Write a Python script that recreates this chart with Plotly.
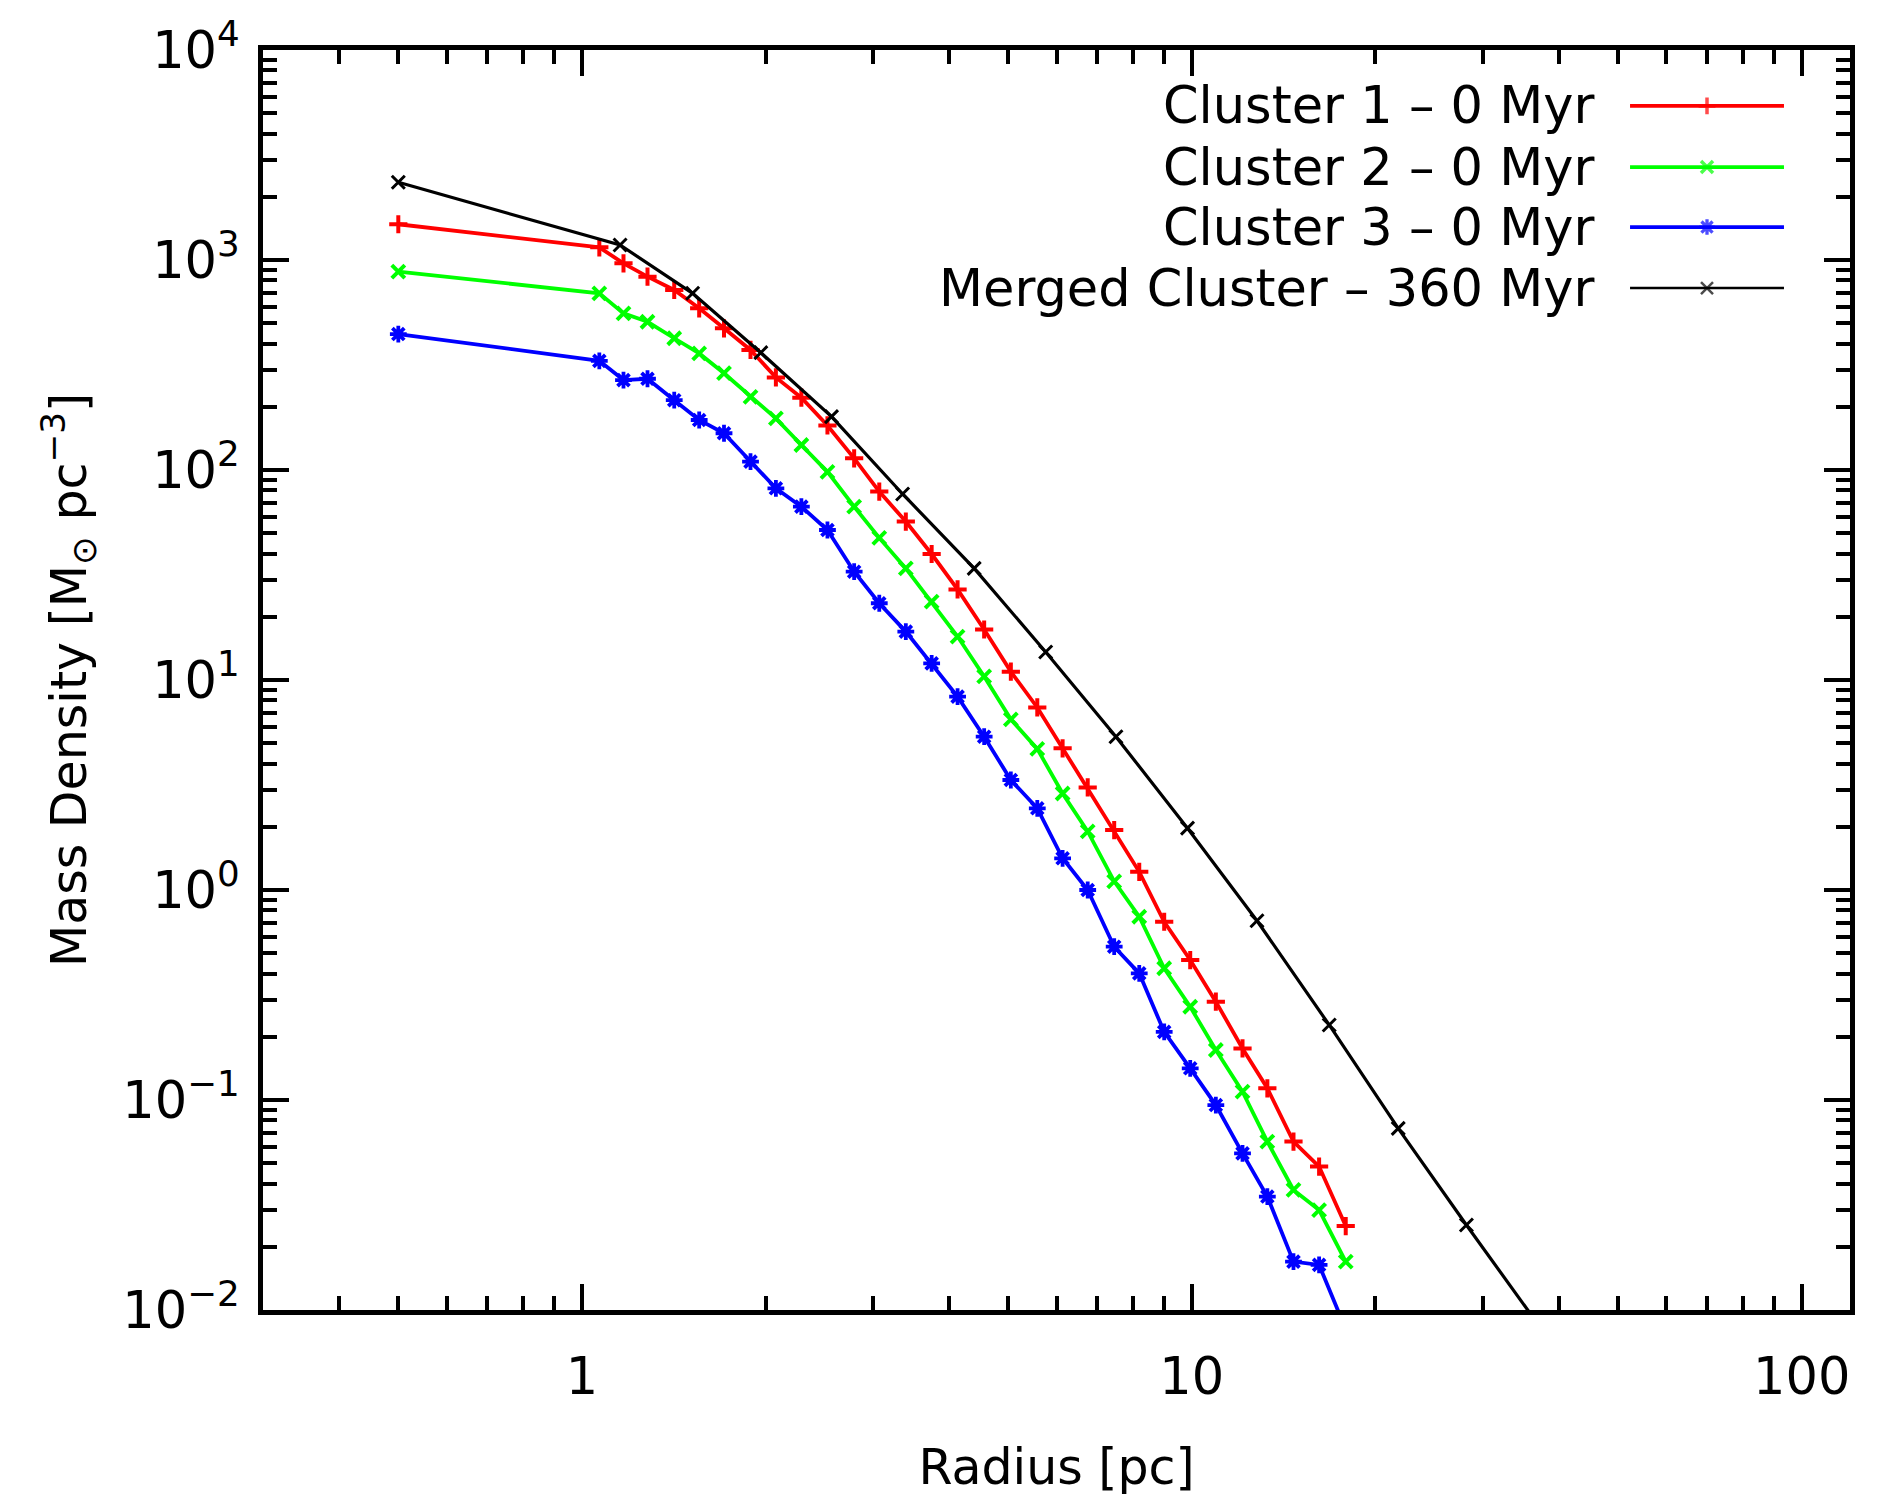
import math
import plotly.graph_objects as go

# ---------------- data ----------------
radius_clusters = [0.5, 1.068, 1.17, 1.281, 1.417, 1.557, 1.71, 1.89, 2.08, 2.29, 2.527,
                   2.795, 3.073, 3.397, 3.745, 4.13, 4.566, 5.05, 5.58, 6.14, 6.75, 7.46,
                   8.2, 9.01, 9.94, 10.95, 12.11, 13.3, 14.68, 16.17, 17.88]
density_c1 = [1480, 1149, 964, 833, 720, 589, 473, 373, 276, 221, 163, 113.6, 78.9, 56.8,
              39.8, 27.0, 17.4, 10.96, 7.4, 4.73, 3.08, 1.93, 1.22, 0.706, 0.464, 0.294,
              0.176, 0.1137, 0.0634, 0.0482, 0.0251]
density_c2 = [880, 694, 557, 508, 424, 359, 289, 223, 176, 131.5, 98, 66.9, 47.5, 34.0,
              23.6, 16.1, 10.4, 6.5, 4.7, 2.88, 1.90, 1.10, 0.746, 0.424, 0.278, 0.173,
              0.1096, 0.0634, 0.0373, 0.0299, 0.0170]
density_c3 = [444, 331, 268, 272, 215, 173, 149.6, 109.6, 81.8, 66.9, 51.8, 32.8, 23.2,
              17.0, 12.0, 8.33, 5.37, 3.34, 2.45, 1.416, 1.0, 0.537, 0.401, 0.211, 0.1416,
              0.0946, 0.0557, 0.0347, 0.0170, 0.0164, 0.0081]
radius_merged = [0.5, 1.155, 1.519, 1.965, 2.566, 3.356, 4.397, 5.76, 7.51, 9.84, 12.79,
                 16.8, 21.8, 28.2, 36.9]
density_merged = [2344, 1179, 694, 362, 179.6, 76.9, 34.0, 13.6, 5.37, 1.97, 0.714,
                  0.2277, 0.0733, 0.0254, 0.0086]

series_names = ["Cluster 1 \u2013 0 Myr", "Cluster 2 \u2013 0 Myr",
                "Cluster 3 \u2013 0 Myr", "Merged Cluster \u2013 360 Myr"]

x_major_ticks = [1, 10, 100]
x_major_text = ["1", "10", "100"]
y_major_ticks = [0.01, 0.1, 1, 10, 100, 1000, 10000]
y_major_text = ["10<sup>\u22122</sup>", "10<sup>\u22121</sup>", "10<sup>0</sup>",
                "10<sup>1</sup>", "10<sup>2</sup>", "10<sup>3</sup>", "10<sup>4</sup>"]

# ---------------- styles ----------------
FONT = "DejaVu Sans"
styles = [
    dict(color="#ff0000", symbol="cross-thin", size=13, lw=3.8, mlw=4),
    dict(color="#00ff00", symbol="x-thin", size=13, lw=3.8, mlw=4),
    dict(color="#0000ff", symbol="asterisk-open", size=14, lw=3.8, mlw=3.8),
    dict(color="#000000", symbol="x-thin", size=13, lw=3.2, mlw=3),
]
xs = [radius_clusters, radius_clusters, radius_clusters, radius_merged]
ys = [density_c1, density_c2, density_c3, density_merged]

fig = go.Figure()
for name, x, y, st in zip(series_names, xs, ys, styles):
    fig.add_trace(go.Scatter(
        x=x, y=y, mode="lines+markers", name=name, showlegend=False,
        line=dict(color=st["color"], width=st["lw"]),
        marker=dict(symbol=st["symbol"], size=st["size"], color=st["color"],
                    line=dict(color=st["color"], width=st["mlw"])),
    ))

# ---------------- custom legend (text left, sample right) ----------------
legend_rows = [0.9556, 0.9071, 0.8595, 0.8111]
legend_text_right = 0.840
legend_line = [0.8614, 0.9099, 0.9584]
for name, st, ry in zip(series_names, styles, legend_rows):
    fig.add_trace(go.Scatter(
        x=legend_line, y=[ry] * 3, xaxis="x2", yaxis="y2", mode="lines+markers",
        showlegend=False, hoverinfo="skip",
        line=dict(color=st["color"], width=st["lw"] if st["color"] != "#000000" else 2.6),
        marker=dict(symbol=st["symbol"], size=[0, st["size"] - 1, 0], color=st["color"],
                    line=dict(color=st["color"], width=st["mlw"] - 0.5)),
    ))
    fig.add_annotation(x=legend_text_right, y=ry, xref="paper", yref="paper",
                       text=name, showarrow=False, xanchor="right", yanchor="middle",
                       font=dict(family=FONT, size=51, color="black"))

# minor ticks
x_minor = [m * 10 ** e for e in (-1, 0, 1) for m in range(2, 10) if 0.3 < m * 10 ** e < 120]
y_minor = [m * 10 ** e for e in (-2, -1, 0, 1, 2, 3) for m in range(2, 10)]

axis_common = dict(
    showline=True, linecolor="black", linewidth=5, mirror="allticks",
    ticks="inside", tickcolor="black", tickwidth=3.5, ticklen=26,
    showgrid=False, zeroline=False,
    tickfont=dict(family=FONT, size=51, color="black"),
)

fig.update_layout(
    width=1896, height=1499,
    paper_bgcolor="white", plot_bgcolor="white",
    margin=dict(l=263, r=46, t=50, b=189),
    showlegend=False,
    xaxis=dict(
        type="log", range=[math.log10(0.3), math.log10(120)],
        tickmode="array", tickvals=x_major_ticks, ticktext=x_major_text,
        minor=dict(tickmode="array", tickvals=x_minor, ticks="inside", ticklen=14,
                   tickwidth=3.5, tickcolor="black", showgrid=False),
        title=dict(text="Radius [pc]", font=dict(family=FONT, size=49, color="black"),
                   standoff=46),
        ticklabelstandoff=18,
        **axis_common,
    ),
    yaxis=dict(
        type="log", range=[-2, 4],
        tickmode="array", tickvals=y_major_ticks, ticktext=y_major_text,
        minor=dict(tickmode="array", tickvals=y_minor, ticks="inside", ticklen=14,
                   tickwidth=3.5, tickcolor="black", showgrid=False),
        title=dict(text="Mass Density [M<sub>\u2299</sub> pc<sup>\u22123</sup>]",
                   font=dict(family=FONT, size=49, color="black"), standoff=22),
        ticklabelstandoff=8,
        **axis_common,
    ),
    xaxis2=dict(overlaying="x", range=[0, 1], visible=False),
    yaxis2=dict(overlaying="y", range=[0, 1], visible=False),
)

fig.write_html("out.html")
